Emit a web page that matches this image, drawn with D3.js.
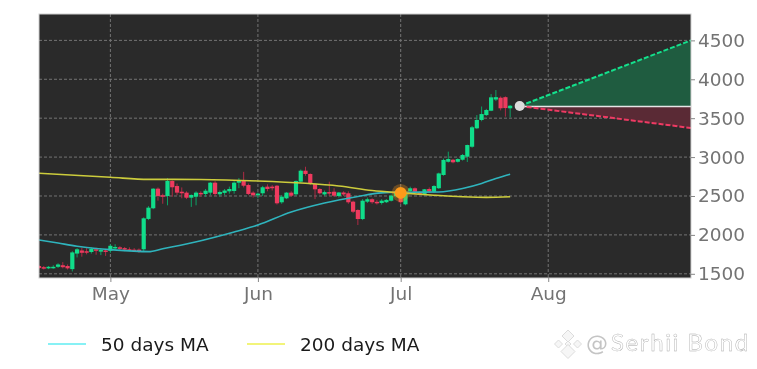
<!DOCTYPE html>
<html>
<head>
<meta charset="utf-8">
<script src="https://cdn.jsdelivr.net/npm/d3@7"></script>
<style>
	html, body { margin: 0; padding: 0; background: #ffffff; }
	svg { display: block; font-family: "DejaVu Sans", sans-serif; filter: blur(0.35px); }
</style>
</head>
<body>
<div id="chart"></div>
<script>
/////////////////////////// Data ////////////////////////////
// One candle per day, starting Apr 16, all read off the picture
const firstCandle = "2025-04-16";
const opens = [1600,1585,1570,1575,1590,1610,1600,1560,1760,1800,1790,1780,1815,1785,1800,
	1795,1830,1840,1830,1815,1810,1810,1815,2205,2342,2594,2510,2500,2693,2628,2555,2543,2478,2491,2540,2526,2543,2671,2522,2540,2560,2564,2671,2697,2641,2543,
	2510,2535,2620,2620,2632,2419,2470,2543,2522,2684,2825,2783,2654,2590,2520,2550,2555,2500,2545,2535,2427,2320,2204,2427,2458,2425,2410,2420,2439,2500,
	2530,2393,2564,2599,2540,2526,2590,2555,2600,2770,2940,2966,2940,2966,3005,3133,3370,3477,3540,3596,3740,3763,3770,3627];
const closes = [1575,1570,1590,1590,1620,1585,1570,1775,1815,1770,1780,1820,1800,1805,1785,
	1860,1845,1825,1810,1805,1800,1795,2213,2350,2594,2500,2490,2693,2612,2543,2535,2478,2513,2543,2525,2568,2671,2526,2551,2570,2590,2671,2706,2632,2526,2509,
	2530,2612,2590,2600,2406,2491,2543,2504,2693,2825,2783,2663,2586,2535,2550,2535,2504,2545,2520,2419,2298,2204,2440,2458,2420,2410,2440,2450,2504,2560,
	2420,2535,2599,2555,2520,2586,2555,2628,2790,2963,2975,2933,2975,3027,3155,3383,3477,3553,3605,3768,3770,3627,3630,3660];
const highs = [1615,1600,1600,1610,1635,1650,1620,1790,1830,1835,1830,1840,1835,1830,1820,
	1880,1880,1855,1845,1840,1830,1825,2225,2370,2600,2610,2530,2730,2700,2660,2610,2560,2520,2560,2560,2590,2680,2690,2570,2590,2620,2690,2730,2810,2660,2560,
	2545,2630,2650,2640,2640,2510,2550,2560,2700,2840,2876,2790,2660,2600,2570,2684,2600,2550,2560,2560,2440,2330,2460,2480,2470,2450,2460,2460,2520,2570,
	2560,2560,2620,2610,2560,2590,2610,2640,2800,2980,3070,2975,2985,3040,3160,3400,3540,3650,3620,3810,3862,3780,3780,3670];
const lows = [1560,1555,1560,1565,1575,1570,1555,1530,1710,1720,1750,1760,1745,1740,1730,
	1770,1810,1800,1790,1790,1780,1770,1790,2190,2330,2440,2400,2380,2490,2510,2470,2460,2360,2380,2490,2490,2510,2500,2490,2510,2530,2530,2600,2610,2510,2480,
	2470,2500,2560,2570,2390,2400,2460,2490,2500,2670,2760,2640,2460,2520,2500,2500,2490,2480,2500,2400,2280,2127,2190,2410,2400,2390,2390,2410,2430,2480,
	2400,2380,2550,2530,2510,2510,2540,2540,2590,2760,2930,2920,2930,2955,2937,3120,3360,3460,3530,3590,3720,3600,3520,3510];

// Moving averages, read at a handful of dates
const ma50Dates = ["2025-04-16","2025-04-20","2025-04-24","2025-04-28","2025-05-01","2025-05-09","2025-05-12","2025-05-20","2025-05-27","2025-06-01","2025-06-08","2025-06-15","2025-06-22","2025-06-27","2025-07-01","2025-07-09","2025-07-14","2025-07-18","2025-07-21","2025-07-24"];
const ma50Values = [1935,1895,1855,1825,1810,1785,1822,1925,2037,2127,2294,2410,2494,2540,2548,2552,2596,2660,2725,2780];
const ma200Dates = ["2025-04-16","2025-05-01","2025-05-09","2025-05-20","2025-06-01","2025-06-11","2025-06-18","2025-06-25","2025-07-01","2025-07-08","2025-07-14","2025-07-19","2025-07-24"];
const ma200Values = [2792,2740,2714,2712,2693,2663,2628,2570,2540,2510,2490,2482,2490];

// Forecast cone
const forecastDates = ["2025-07-26","2025-08-31"];
const forecastUp = [3656,4500];
const forecastDown = [3656,3374];
const forecastLevel = 3650;
const crossDate = "2025-07-01";
const crossValue = 2540;

// Axes and legend
const yTicks = [1500,2000,2500,3000,3500,4000,4500];
const xTickDates = ["2025-05-01","2025-06-01","2025-07-01","2025-08-01"];
const xTickLabels = ["May","Jun","Jul","Aug"];
const legendLabels = ["50 days MA","200 days MA"];

/////////////////////////// Set up ///////////////////////////
const width = 757, height = 369;
const plot = {left: 39, right: 691, top: 14, bottom: 278};
const parseDay = d3.timeParse("%Y-%m-%d");

const svg = d3.select("#chart").append("svg")
	.attr("width", width)
	.attr("height", height);

const xScale = d3.scaleTime()
	.domain([parseDay("2025-04-16"), parseDay("2025-08-31")])
	.range([plot.left, plot.right]);
const yScale = d3.scaleLinear()
	.domain([1446, 4839])
	.range([plot.bottom, plot.top]);

const candleDays = opens.map((d, i) => d3.timeDay.offset(parseDay(firstCandle), i));

// Plot background
svg.append("rect")
	.attr("x", plot.left)
	.attr("y", plot.top)
	.attr("width", plot.right - plot.left)
	.attr("height", plot.bottom - plot.top)
	.attr("fill", "#2a2a2a");

svg.append("clipPath").attr("id", "plotClip").append("rect")
	.attr("x", plot.left)
	.attr("y", plot.top)
	.attr("width", plot.right - plot.left)
	.attr("height", plot.bottom - plot.top);

// Grid
const grid = svg.append("g").attr("stroke", "#747474").attr("stroke-width", 1).attr("stroke-dasharray", "3,2");
grid.selectAll(".hGrid").data(yTicks).enter().append("line")
	.attr("x1", plot.left).attr("x2", plot.right)
	.attr("y1", d => yScale(d)).attr("y2", d => yScale(d));
grid.selectAll(".vGrid").data(xTickDates).enter().append("line")
	.attr("y1", plot.top).attr("y2", plot.bottom)
	.attr("x1", d => xScale(parseDay(d))).attr("x2", d => xScale(parseDay(d)));

const marks = svg.append("g").attr("clip-path", "url(#plotClip)");

// Forecast cone
const coneArea = (values) => d3.area()
	.x((d, i) => xScale(parseDay(forecastDates[i])))
	.y0(yScale(forecastLevel))
	.y1(d => yScale(d))(values);
const coneLine = d3.line().x((d, i) => xScale(parseDay(forecastDates[i]))).y(d => yScale(d));

marks.append("path").attr("d", coneArea(forecastUp)).attr("fill", "#1f5c40");
marks.append("path").attr("d", coneArea(forecastDown)).attr("fill", "#5a2a35");
marks.append("line")
	.attr("x1", xScale(parseDay(forecastDates[0])))
	.attr("x2", xScale(parseDay(forecastDates[1])))
	.attr("y1", yScale(forecastLevel))
	.attr("y2", yScale(forecastLevel))
	.attr("stroke", "#e6e6e6")
	.attr("stroke-width", 1.5);
marks.append("path").attr("d", coneLine(forecastUp))
	.attr("fill", "none").attr("stroke", "#14e08c").attr("stroke-width", 2).attr("stroke-dasharray", "5,2");
marks.append("path").attr("d", coneLine(forecastDown))
	.attr("fill", "none").attr("stroke", "#ee3a63").attr("stroke-width", 2).attr("stroke-dasharray", "5,2");

// Candles
const candleColor = (i) => closes[i] >= opens[i] ? "#10dd8a" : "#ee3a5e";
marks.selectAll(".wick").data(candleDays).enter().append("line")
	.attr("class", "wick")
	.attr("x1", d => xScale(d)).attr("x2", d => xScale(d))
	.attr("y1", (d, i) => yScale(highs[i]))
	.attr("y2", (d, i) => yScale(lows[i]))
	.attr("stroke", (d, i) => d3.color(candleColor(i)).darker(0.9))
	.attr("stroke-width", 1);
marks.selectAll(".body").data(candleDays).enter().append("rect")
	.attr("class", "body")
	.attr("x", d => xScale(d) - 2.1)
	.attr("width", 4.2)
	.attr("y", (d, i) => yScale(Math.max(opens[i], closes[i])))
	.attr("height", (d, i) => Math.max(1.5, Math.abs(yScale(opens[i]) - yScale(closes[i]))))
	.attr("fill", (d, i) => candleColor(i));

// Moving averages
const maLine = (dates) => d3.line()
	.curve(d3.curveMonotoneX)
	.x((d, i) => xScale(parseDay(dates[i])))
	.y(d => yScale(d));
marks.append("path").attr("d", maLine(ma50Dates)(ma50Values))
	.attr("fill", "none").attr("stroke", "#2fb4bd").attr("stroke-width", 1.6);
marks.append("path").attr("d", maLine(ma200Dates)(ma200Values))
	.attr("fill", "none").attr("stroke", "#cccc3c").attr("stroke-width", 1.6);

// Markers
marks.append("circle")
	.attr("cx", xScale(parseDay(crossDate))).attr("cy", yScale(crossValue))
	.attr("r", 9).attr("fill", "#ff9a1a").attr("opacity", 0.3);
marks.append("circle")
	.attr("cx", xScale(parseDay(crossDate))).attr("cy", yScale(crossValue))
	.attr("r", 6).attr("fill", "#ff9a1a");
marks.append("circle")
	.attr("cx", xScale(parseDay(forecastDates[0]))).attr("cy", yScale(forecastUp[0]))
	.attr("r", 5).attr("fill", "#dcdcdc");

// Frame
svg.append("rect")
	.attr("x", plot.left)
	.attr("y", plot.top)
	.attr("width", plot.right - plot.left)
	.attr("height", plot.bottom - plot.top)
	.attr("fill", "none")
	.attr("stroke", "#d0d0d0");

// Axes
const yAxis = d3.axisRight(yScale).tickValues(yTicks).tickSize(4).tickPadding(3).tickFormat(d3.format("d"));
const xAxis = d3.axisBottom(xScale).tickValues(xTickDates.map(parseDay)).tickSize(4).tickPadding(5)
	.tickFormat((d, i) => xTickLabels[i]);

const yG = svg.append("g").attr("transform", "translate(" + plot.right + ",0)").call(yAxis);
const xG = svg.append("g").attr("transform", "translate(0," + plot.bottom + ")").call(xAxis);
[yG, xG].forEach(g => {
	g.select(".domain").remove();
	g.selectAll("line").attr("stroke", "#888888");
	g.selectAll("text").attr("fill", "#737373").style("font-size", "18.5px").style("font-family", "'DejaVu Sans', sans-serif");
});

// Legend
const legendColors = ["#5fecf2", "#eef04e"];
const legendX = [48, 247];
const legend = svg.selectAll(".legendItem").data(legendLabels).enter().append("g")
	.attr("class", "legendItem")
	.attr("transform", (d, i) => "translate(" + legendX[i] + ",344)");
legend.append("line")
	.attr("x1", 0).attr("x2", 38).attr("y1", 0).attr("y2", 0)
	.attr("stroke", (d, i) => legendColors[i])
	.attr("stroke-width", 1.3);
legend.append("text")
	.attr("x", 53)
	.attr("dy", "0.36em")
	.attr("fill", "#1a1a1a")
	.style("font-size", "18.5px")
	.text(d => d);

// Watermark
const logo = svg.append("g").attr("transform", "translate(568,344)")
	.attr("fill", "#f6f6f6").attr("stroke", "#dcdcdc").attr("stroke-width", 1);
[[0,-8,6],[-9.5,0,4],[9.5,0,4],[0,0,3],[0,7.5,7]].forEach(p => {
	logo.append("path")
		.attr("d", "M" + p[0] + "," + (p[1] - p[2]) + "L" + (p[0] + p[2]) + "," + p[1] + "L" + p[0] + "," + (p[1] + p[2]) + "L" + (p[0] - p[2]) + "," + p[1] + "Z");
});
svg.append("text")
	.attr("x", 586).attr("y", 351)
	.attr("fill", "#c4c4c4")
	.style("font-size", "22px")
	.text("@");
svg.append("text")
	.attr("x", 611).attr("y", 351)
	.attr("fill", "#ffffff")
	.attr("stroke", "#a8a8a8")
	.attr("stroke-width", 0.4)
	.style("font-family", "Lato, sans-serif")
	.style("font-size", "24px")
	.style("letter-spacing", "1.6px")
	.text("Serhii Bond");
</script>
</body>
</html>
